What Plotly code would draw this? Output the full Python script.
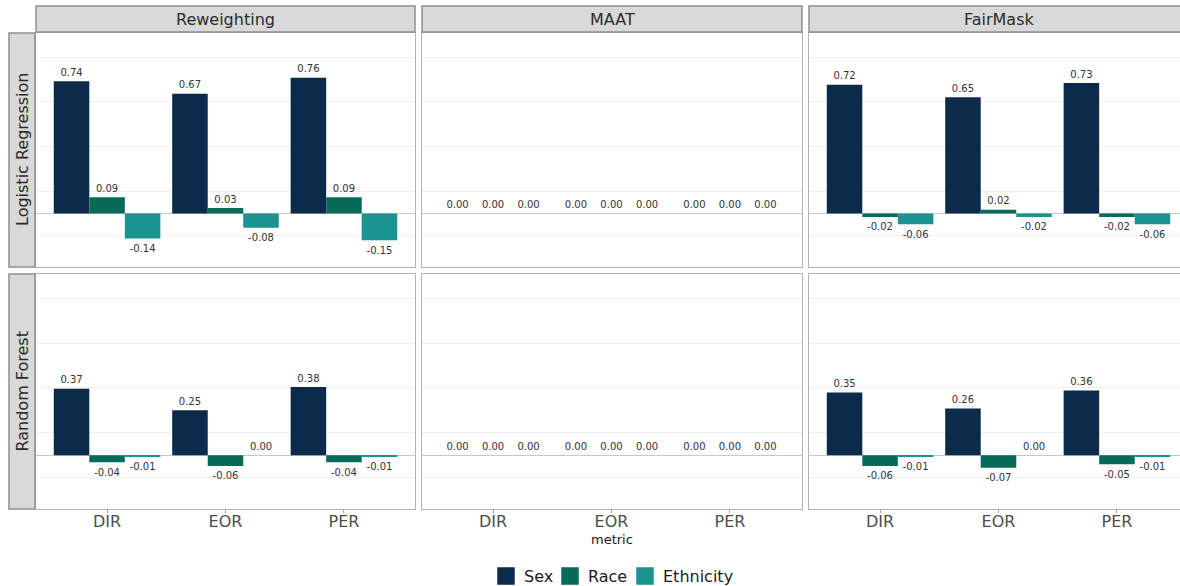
import plotly.graph_objects as go
from plotly.subplots import make_subplots

# ---- data -------------------------------------------------------------
metrics = ["DIR", "EOR", "PER"]
methods = ["Reweighting", "MAAT", "FairMask"]
models = ["Logistic Regression", "Random Forest"]
attributes = ["Sex", "Race", "Ethnicity"]

# Logistic Regression
lr_reweighting_sex = [0.74, 0.67, 0.76]
lr_reweighting_race = [0.09, 0.03, 0.09]
lr_reweighting_ethnicity = [-0.14, -0.08, -0.15]
lr_maat_sex = [0.00, 0.00, 0.00]
lr_maat_race = [0.00, 0.00, 0.00]
lr_maat_ethnicity = [0.00, 0.00, 0.00]
lr_fairmask_sex = [0.72, 0.65, 0.73]
lr_fairmask_race = [-0.02, 0.02, -0.02]
lr_fairmask_ethnicity = [-0.06, -0.02, -0.06]

# Random Forest
rf_reweighting_sex = [0.37, 0.25, 0.38]
rf_reweighting_race = [-0.04, -0.06, -0.04]
rf_reweighting_ethnicity = [-0.01, 0.00, -0.01]
rf_maat_sex = [0.00, 0.00, 0.00]
rf_maat_race = [0.00, 0.00, 0.00]
rf_maat_ethnicity = [0.00, 0.00, 0.00]
rf_fairmask_sex = [0.35, 0.26, 0.36]
rf_fairmask_race = [-0.06, -0.07, -0.05]
rf_fairmask_ethnicity = [-0.01, 0.00, -0.01]

panel_values = {
    (0, 0): [lr_reweighting_sex, lr_reweighting_race, lr_reweighting_ethnicity],
    (0, 1): [lr_maat_sex, lr_maat_race, lr_maat_ethnicity],
    (0, 2): [lr_fairmask_sex, lr_fairmask_race, lr_fairmask_ethnicity],
    (1, 0): [rf_reweighting_sex, rf_reweighting_race, rf_reweighting_ethnicity],
    (1, 1): [rf_maat_sex, rf_maat_race, rf_maat_ethnicity],
    (1, 2): [rf_fairmask_sex, rf_fairmask_race, rf_fairmask_ethnicity],
}

# ---- styling ----------------------------------------------------------
colors = {"Sex": "#0C2A4A", "Race": "#086B5A", "Ethnicity": "#1A9391"}
FONT = "DejaVu Sans"
W, H = 1180, 586
BAR_W = 0.3
Y_RANGE = [-0.30, 1.01]
GRID_VALS = [-0.125, 0.125, 0.375, 0.625, 0.875]
PAD_ABOVE, PAD_BELOW = 3, 8   # invisible marker sizes that offset value labels

col_px = [(36, 415), (422, 802), (809, 1180)]
row_px = [(33, 267), (274, 509)]
unit_px = (col_px[0][1] - col_px[0][0]) / 3.2


def fx(x):
    return x / W


def fy(y):
    return 1 - y / H


fig = make_subplots(rows=2, cols=3)

for (r, c), series in panel_values.items():
    for k, (attr, vals) in enumerate(zip(attributes, series)):
        xs = [i + 1 + (k - 1) * BAR_W for i in range(len(metrics))]
        fig.add_trace(
            go.Bar(
                x=xs, y=vals, width=BAR_W,
                marker=dict(color=colors[attr], line=dict(width=0)),
                name=attr, showlegend=False, hoverinfo="skip",
            ),
            row=r + 1, col=c + 1,
        )
        # value labels; the transparent marker pads the text off the bar end
        fig.add_trace(
            go.Scatter(
                x=xs, y=vals, mode="markers+text",
                marker=dict(size=[PAD_ABOVE if v >= 0 else PAD_BELOW for v in vals],
                            opacity=0),
                text=[f"{v:.2f}" for v in vals],
                textposition=["top center" if v >= 0 else "bottom center" for v in vals],
                textfont=dict(family=FONT, size=10, color="#333333"),
                showlegend=False, hoverinfo="skip", cliponaxis=False,
            ),
            row=r + 1, col=c + 1,
        )

fig.update_layout(barmode="overlay")

for r in range(2):
    for c in range(3):
        x0, x1 = col_px[c]
        y0, y1 = row_px[r]
        xr = [0.4, 0.4 + (x1 - x0) / unit_px]
        fig.update_xaxes(
            domain=[fx(x0), fx(x1)], range=xr,
            tickvals=[1, 2, 3], ticktext=metrics,
            showgrid=False, zeroline=False,
            showline=True, linecolor="#b3b3b3", linewidth=1, mirror=True,
            showticklabels=(r == 1),
            ticks="outside" if r == 1 else "", ticklen=3, tickcolor="#a0a0a0",
            ticklabelstandoff=-5,
            tickfont=dict(family=FONT, size=16, color="#4d4d4d"),
            row=r + 1, col=c + 1,
        )
        fig.update_yaxes(
            domain=[fy(y1), fy(y0)], range=Y_RANGE,
            tickvals=GRID_VALS, showticklabels=False, ticks="",
            showgrid=True, gridcolor="#f0f0f0", gridwidth=1,
            zeroline=True, zerolinecolor="#c8c8c8", zerolinewidth=1,
            showline=True, linecolor="#b3b3b3", linewidth=1,
            mirror=(c < 2),
            row=r + 1, col=c + 1,
        )

shapes = []
annotations = []

# facet strips along the top
for c, method in enumerate(methods):
    x0, x1 = col_px[c]
    if c == 2:
        x1 = W + 12
    shapes.append(dict(type="rect", xref="paper", yref="paper",
                       x0=fx(x0), x1=fx(x1), y0=fy(32), y1=fy(6),
                       fillcolor="#d9d9d9", line=dict(color="#8f8f8f", width=1.5),
                       layer="above"))
    annotations.append(dict(text=method, xref="paper", yref="paper",
                            x=(fx(col_px[c][0]) + fx(col_px[c][1] if c < 2 else 1190)) / 2,
                            y=fy(19), showarrow=False, xanchor="center", yanchor="middle",
                            font=dict(family=FONT, size=16, color="#2b2b2b")))

# facet strips along the left
for r, model in enumerate(models):
    y0, y1 = row_px[r]
    shapes.append(dict(type="rect", xref="paper", yref="paper",
                       x0=fx(9), x1=fx(35), y0=fy(y1), y1=fy(y0),
                       fillcolor="#d9d9d9", line=dict(color="#8f8f8f", width=1.5),
                       layer="above"))
    annotations.append(dict(text=model, xref="paper", yref="paper",
                            x=fx(22), y=fy((y0 + y1) / 2), showarrow=False,
                            textangle=-90, xanchor="center", yanchor="middle",
                            font=dict(family=FONT, size=16, color="#2b2b2b")))

# x-axis title
annotations.append(dict(text="metric", xref="paper", yref="paper",
                        x=fx((col_px[1][0] + col_px[1][1]) / 2), y=fy(539),
                        showarrow=False, xanchor="center", yanchor="middle",
                        font=dict(family=FONT, size=13, color="#1a1a1a")))

# legend
legend_key_x = [497, 561, 636]
for attr, kx in zip(attributes, legend_key_x):
    shapes.append(dict(type="rect", xref="paper", yref="paper",
                       x0=fx(kx), x1=fx(kx + 18), y0=fy(585), y1=fy(567),
                       fillcolor=colors[attr], line=dict(color="#ffffff", width=0.5)))
    annotations.append(dict(text=attr, xref="paper", yref="paper",
                            x=fx(kx + 25), y=fy(576), showarrow=False,
                            xanchor="left", yanchor="middle",
                            font=dict(family=FONT, size=16, color="#1a1a1a")))

fig.update_layout(
    width=W, height=H,
    margin=dict(l=0, r=0, t=0, b=0),
    paper_bgcolor="white", plot_bgcolor="white",
    showlegend=False,
    shapes=shapes, annotations=annotations,
    font=dict(family=FONT),
)

fig.write_html("out.html")
